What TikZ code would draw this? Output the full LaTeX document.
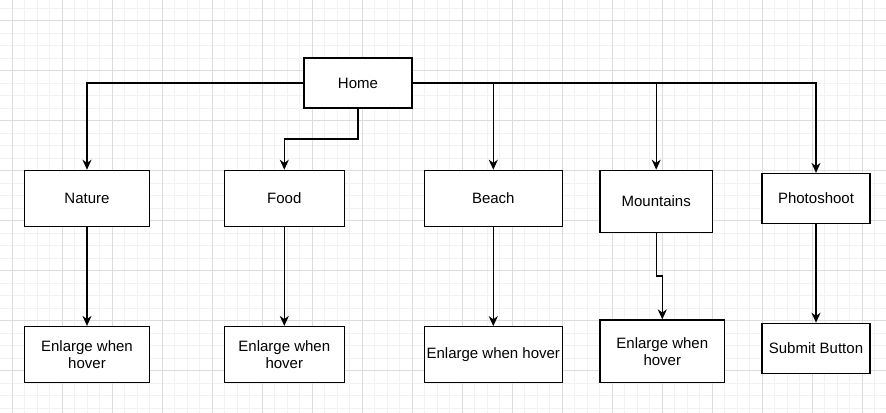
\documentclass[tikz,border=0pt]{standalone}
\usepackage{fontspec}
\setmainfont{Liberation Sans}
\usetikzlibrary{arrows.meta}
\definecolor{gridminor}{HTML}{F2F2F2}
\definecolor{gridmajor}{HTML}{DCDCDC}
\tikzset{
  box/.style={draw=black, line width=0.9pt, fill=white, align=center, inner sep=1pt,
    font=\fontsize{11.25pt}{12.9pt}\selectfont},
  conn/.style={draw=black, line width=0.9pt, -{Stealth[length=7.5pt,width=6.8pt,inset=2.4pt]}},
  minorline/.style={draw=gridminor, line width=0.75pt},
  majorline/.style={draw=gridmajor, line width=0.75pt}
}
\begin{document}
\begin{tikzpicture}[x=0.75pt,y=-0.75pt]
\useasboundingbox (0,0) rectangle (886,413);
\fill[white] (0,0) rectangle (886,413);
% grid
\foreach \i in {0,...,71} {
  \pgfmathsetmacro{\xx}{-0.2+12.5*\i}
  \draw[minorline] (\xx,0) -- (\xx,413);
}
\foreach \i in {0,...,33} {
  \pgfmathsetmacro{\yy}{8.2+12.5*\i}
  \draw[minorline] (0,\yy) -- (886,\yy);
}
\foreach \i in {0,...,17} {
  \pgfmathsetmacro{\xx}{12.3+50*\i}
  \draw[majorline] (\xx,0) -- (\xx,413);
}
\foreach \i in {0,...,8} {
  \pgfmathsetmacro{\yy}{20.7+50*\i}
  \draw[majorline] (0,\yy) -- (886,\yy);
}
% nodes
\node[box, minimum width=81pt, minimum height=37.5pt] (home) at (358,83) {Home};
\node[box, minimum width=94pt, minimum height=42pt] (nature) at (87,198.3) {Nature};
\node[box, minimum width=90pt, minimum height=42pt] (food) at (284.3,198.3) {Food};
\node[box, minimum width=103.5pt, minimum height=42pt] (beach) at (493.3,198.3) {Beach};
\node[box, minimum width=84.4pt, minimum height=46.9pt] (mountains) at (656.2,201.5) {Mountains};
\node[box, minimum width=81pt, minimum height=37.5pt] (photo) at (816,198.5) {Photoshoot};
\node[box, minimum width=94pt, minimum height=42pt] (naturec) at (87,354.5) {Enlarge when\\hover};
\node[box, minimum width=90pt, minimum height=42pt] (foodc) at (284.3,354.5) {Enlarge when\\hover};
\node[box, minimum width=103.5pt, minimum height=42pt] (beachc) at (493.3,354.7) {Enlarge when hover};
\node[box, minimum width=93.5pt, minimum height=47pt] (mountc) at (662.3,351.3) {Enlarge when\\hover};
\node[box, minimum width=81pt, minimum height=37.8pt] (submit) at (816,348.5) {Submit Button};
% junctions
\coordinate (fj) at (284.3,139);
\coordinate (mj) at (656.2,276);
% connectors
\draw[conn] (home.west) -| (nature.north);
\draw[conn] (home.south) |- (fj) -- (food.north);
\draw[conn] (home.east) -| (beach.north);
\draw[conn] (home.east) -| (mountains.north);
\draw[conn] (home.east) -| (photo.north);
\draw[conn] (nature.south) -- (naturec.north);
\draw[conn] (food.south) -- (foodc.north);
\draw[conn] (beach.south) -- (beachc.north);
\draw[conn] (mountains.south) -- (mj) -| (mountc.north);
\draw[conn] (photo.south) -- (submit.north);
\end{tikzpicture}
\end{document}
